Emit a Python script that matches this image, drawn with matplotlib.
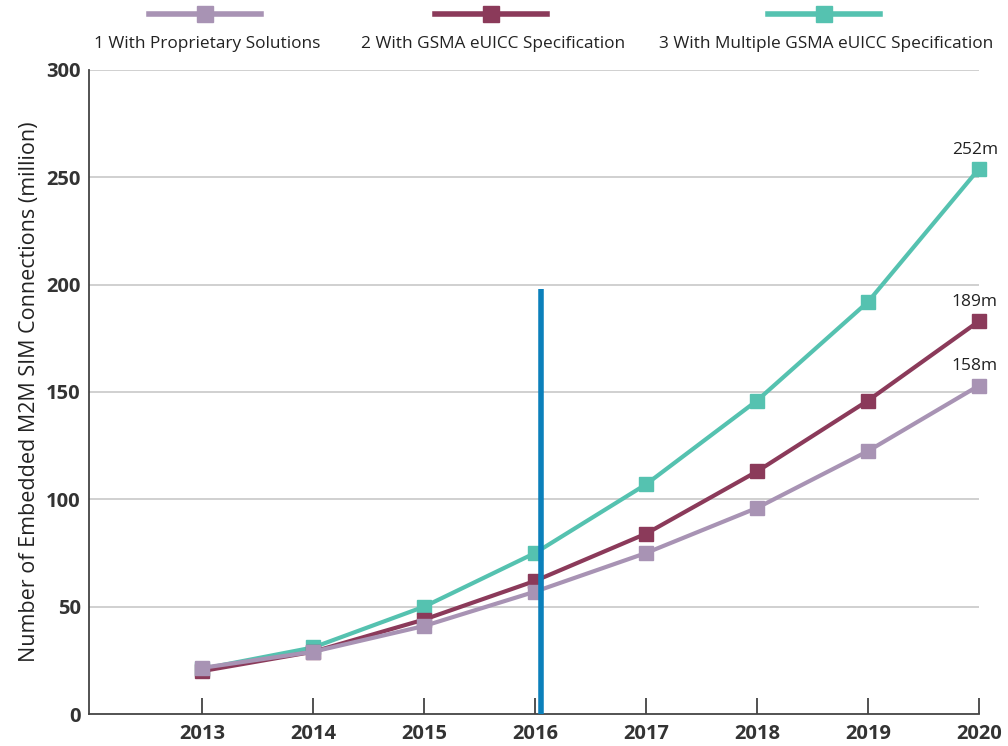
import matplotlib.pyplot as plt
from matplotlib.lines import Line2D

# data
years = [2013, 2014, 2015, 2016, 2017, 2018, 2019, 2020]
proprietary = [21.5, 29, 41, 57, 75, 96, 122.5, 153]
gsma = [20, 29, 44, 62, 84, 113, 146, 183]
multi_gsma = [21, 31, 50, 75, 107, 146, 192, 254]
end_labels = ['158m', '189m', '252m']
series_names = ['1 With Proprietary Solutions', '2 With GSMA eUICC Specification',
                '3 With Multiple GSMA eUICC Specification']
colors = ['#a893b4', '#8b3a5a', '#55c2b0']
marker_year = 2016.05
marker_top = 198

plt.rcParams['font.family'] = ['Open Sans', 'DejaVu Sans']

fig = plt.figure(figsize=(10.08, 7.46), dpi=100)
ax = fig.add_axes([89/1008, 1-714/746, (979-89)/1008, (714-70)/746])

# gridlines
for yv in [50, 100, 150, 200, 250, 300]:
    ax.axhline(yv, color='#c8c8c8', lw=1.2, zorder=0)

series = [proprietary, gsma, multi_gsma]
for i in [2, 1, 0]:
    ax.plot(years, series[i], color=colors[i], lw=3, marker='s', ms=10,
            clip_on=False, zorder=3 + (2 - i))

# end labels
for i in range(3):
    ax.annotate(end_labels[i], (years[-1], series[i][-1]), xytext=(-3, 8),
                textcoords='offset points', ha='center', va='bottom',
                fontsize=12.5, color='#222222')

# vertical marker line
ax.plot([marker_year, marker_year], [0, marker_top], color='#0b80bb', lw=4, zorder=6,
        solid_capstyle='butt')

ax.set_xlim(2011.98, 2020)
ax.set_ylim(0, 300)
ax.set_xticks(years)
ax.set_yticks([0, 50, 100, 150, 200, 250, 300])
ax.tick_params(axis='x', direction='in', length=11.5, width=1.2, colors='#333333',
               labelsize=14.5, pad=7)
ax.tick_params(axis='y', length=0, labelsize=14.5, colors='#333333', pad=6)
for lab in ax.get_xticklabels() + ax.get_yticklabels():
    lab.set_fontweight('bold')
    lab.set_color('#333333')
ax.spines['top'].set_visible(False)
ax.spines['right'].set_visible(False)
for s in ['left', 'bottom']:
    ax.spines[s].set_color('#444444')
    ax.spines[s].set_linewidth(1.3)
ax.set_ylabel('Number of Embedded M2M SIM Connections (million)', fontsize=15.5,
              color='#222222', labelpad=4)

# legend drawn at the top: handle above, text below
leg_x = [205, 491, 824]
for i in range(3):
    cx = leg_x[i] / 1008
    fig.add_artist(Line2D([cx - 56/1008, cx + 56/1008], [1 - 14/746] * 2,
                          color=colors[i], lw=4, transform=fig.transFigure))
    fig.add_artist(Line2D([cx], [1 - 14/746], color=colors[i], marker='s', ms=11,
                          transform=fig.transFigure))
    fig.text(cx + 2/1008, 1 - 44/746, series_names[i], ha='center', va='center',
             fontsize=12.4, color='#222222')

fig.savefig('out.png', dpi=100)
